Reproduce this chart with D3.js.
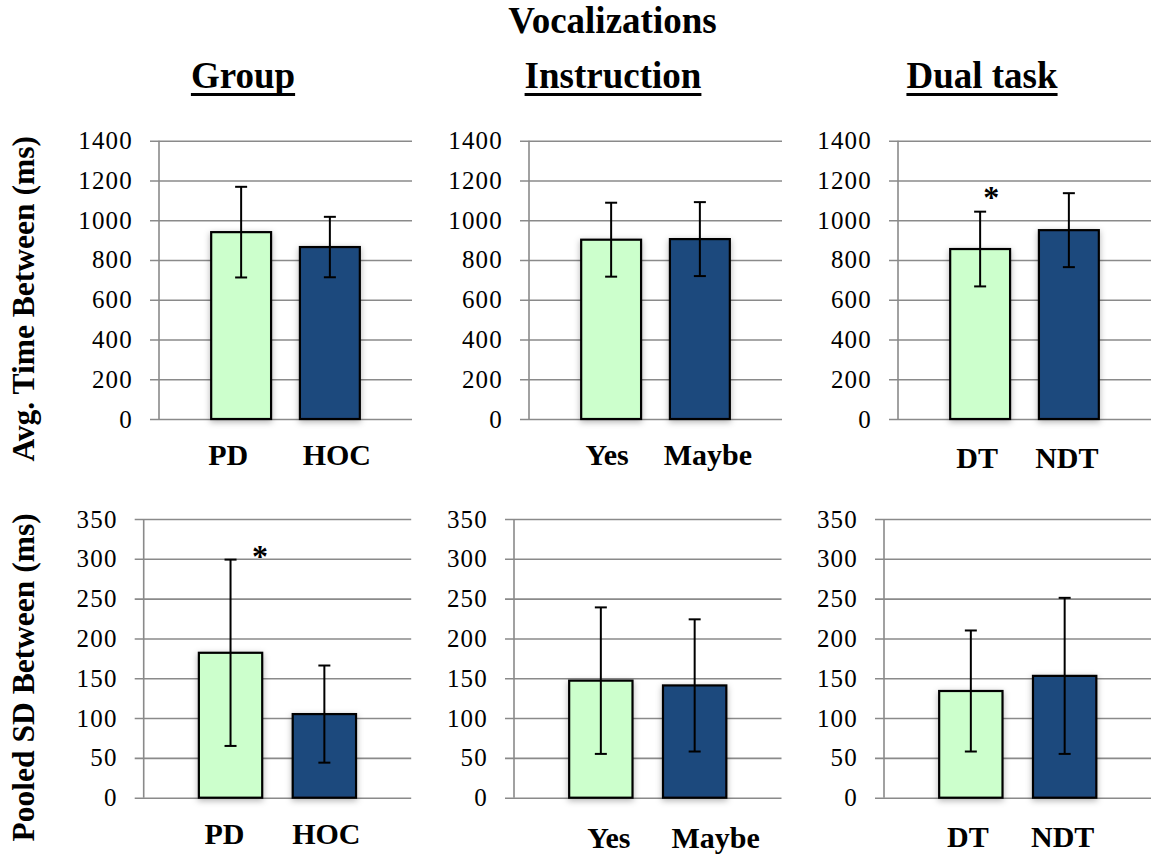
<!DOCTYPE html>
<html>
<head>
<meta charset="utf-8">
<script src="https://cdn.jsdelivr.net/npm/d3@7"></script>
<style>
  body { margin: 0; background: #fff; }
  text { font-family: "Liberation Serif", "Times New Roman", serif; }
  .tick text { font-family: "Liberation Serif", serif !important; }
</style>
</head>
<body>
<svg id="chart" width="1151" height="855"></svg>
<script>
// ---- data ----
var mainTitle = "Vocalizations";
var panelTitles = ["Group", "Instruction", "Dual task"];
var categories = [["PD", "HOC"], ["Yes", "Maybe"], ["DT", "NDT"]];

// avg. time between (ms), mean and error bar half-length
var avgMeans  = [[940, 865], [902, 905], [855, 950]];
var avgErrors = [[228, 152], [186, 186], [188, 186]];
var avgTicks  = [0, 200, 400, 600, 800, 1000, 1200, 1400];

// pooled SD between (ms)
var sdMeans  = [[182, 105], [147, 141], [134, 153]];
var sdErrors = [[117, 61], [92, 83], [76, 98]];
var sdTicks  = [0, 50, 100, 150, 200, 250, 300, 350];

// significant bars: [panel, bar]
var avgStars = [[2, 0]];
var sdStars  = [[0, 0]];

var barColors = ["#ccffcc", "#1f497d"];

// ---- layout ----
var rows = [
  { means: avgMeans, errors: avgErrors, ticks: avgTicks, stars: avgStars,
    top: 140.7, bottom: 419, axisX: [159, 529, 898], w: 253,
    yTitle: "Avg. Time Between (ms)",
    labelDy: [46, 46, 49], labelDx: [[-13, 7], [-4, 8], [-3, -2]],
    starDx: 11, starDy: 19 },
  { means: sdMeans, errors: sdErrors, ticks: sdTicks, stars: sdStars,
    top: 519, bottom: 797.7, axisX: [143.7, 514, 884], w: 267.5,
    yTitle: "Pooled SD Between (ms)",
    labelDy: [46.5, 50.5, 49], labelDx: [[-6, 2], [8, 21], [-3, -2]],
    starDx: 29.5, starDy: 8 }
];

var svg = d3.select("#chart");

// soft shadow like the excel bars
var filt = svg.append("defs").append("filter")
  .attr("id", "shadow").attr("x", "-20%").attr("y", "-20%")
  .attr("width", "140%").attr("height", "140%");
filt.append("feDropShadow")
  .attr("dx", 0).attr("dy", 2).attr("stdDeviation", 3)
  .attr("flood-color", "#000").attr("flood-opacity", 0.3);

// main title
svg.append("text")
  .attr("x", 612.5).attr("y", 33)
  .attr("text-anchor", "middle")
  .style("font-size", "37px").style("font-weight", "bold")
  .text(mainTitle);

// panel titles with underline
panelTitles.forEach(function(t, i) {
  var cx = rows[0].axisX[i] + 84;
  var txt = svg.append("text")
    .attr("x", cx).attr("y", 88)
    .attr("text-anchor", "middle")
    .style("font-size", "37px").style("font-weight", "bold")
    .text(t);
  var len = txt.node().getComputedTextLength();
  svg.append("line")
    .attr("x1", cx - len / 2).attr("x2", cx + len / 2)
    .attr("y1", 94.5).attr("y2", 94.5)
    .attr("stroke", "#000").attr("stroke-width", 3);
});

rows.forEach(function(row) {
  var y = d3.scaleLinear()
    .domain([0, d3.max(row.ticks)])
    .range([row.bottom, row.top]);

  // y axis title
  var midY = (row.top + row.bottom) / 2 + 19;
  svg.append("text")
    .attr("transform", "translate(34," + midY + ") rotate(-90)")
    .attr("text-anchor", "middle")
    .style("font-size", "31.5px").style("font-weight", "bold")
    .text(row.yTitle);

  categories.forEach(function(cats, p) {
    var ax = row.axisX[p];
    var x = d3.scaleBand()
      .domain(cats)
      .range([ax, ax + row.w])
      .paddingInner(0.325)
      .paddingOuter(0.588);

    // gridlines + tick labels
    var g = svg.append("g")
      .attr("transform", "translate(" + (ax - 9) + ",0)")
      .call(d3.axisLeft(y)
        .tickValues(row.ticks)
        .tickFormat(d3.format("d"))
        .tickSize(-(row.w + 9))
        .tickSizeOuter(0));
    g.attr("font-family", null).attr("font-size", null);
    g.select(".domain").remove();
    g.selectAll(".tick line").attr("stroke", "#8a8a8a").attr("stroke-width", 1.6);
    g.selectAll(".tick text")
      .attr("x", -17)
      .attr("fill", "#000")
      .style("font-size", "25px")
      .style("letter-spacing", "1.2px");

    // vertical axis line
    svg.append("line")
      .attr("x1", ax).attr("x2", ax)
      .attr("y1", row.top).attr("y2", row.bottom)
      .attr("stroke", "#8a8a8a").attr("stroke-width", 1.6);

    var vals = cats.map(function(c, i) {
      return { cat: c, mean: row.means[p][i], err: row.errors[p][i], i: i };
    });

    // bars
    svg.append("g").selectAll("rect")
      .data(vals)
      .join("rect")
      .attr("x", function(d) { return x(d.cat); })
      .attr("y", function(d) { return y(d.mean); })
      .attr("width", x.bandwidth())
      .attr("height", function(d) { return y(0) - y(d.mean); })
      .attr("fill", function(d) { return barColors[d.i]; })
      .attr("stroke", "#000")
      .attr("stroke-width", 2.2)
      .attr("filter", "url(#shadow)");

    // error bars
    var eb = svg.append("g").selectAll("g")
      .data(vals)
      .join("g")
      .attr("stroke", "#000").attr("stroke-width", 2);
    eb.append("line")
      .attr("x1", function(d) { return x(d.cat) + x.bandwidth() / 2; })
      .attr("x2", function(d) { return x(d.cat) + x.bandwidth() / 2; })
      .attr("y1", function(d) { return y(d.mean + d.err); })
      .attr("y2", function(d) { return y(d.mean - d.err); });
    [1, -1].forEach(function(s) {
      eb.append("line")
        .attr("x1", function(d) { return x(d.cat) + x.bandwidth() / 2 - 6; })
        .attr("x2", function(d) { return x(d.cat) + x.bandwidth() / 2 + 6; })
        .attr("y1", function(d) { return y(d.mean + s * d.err); })
        .attr("y2", function(d) { return y(d.mean + s * d.err); });
    });

    // category labels
    svg.append("g").selectAll("text")
      .data(vals)
      .join("text")
      .attr("x", function(d) { return x(d.cat) + x.bandwidth() / 2 + row.labelDx[p][d.i]; })
      .attr("y", row.bottom + row.labelDy[p])
      .attr("text-anchor", "middle")
      .style("font-size", "30px").style("font-weight", "bold")
      .text(function(d) { return d.cat; });

    // significance stars
    row.stars.filter(function(s) { return s[0] === p; }).forEach(function(s) {
      var d = vals[s[1]];
      svg.append("text")
        .attr("x", x(d.cat) + x.bandwidth() / 2 + row.starDx)
        .attr("y", y(d.mean + d.err) - row.starDy + 15)
        .attr("text-anchor", "middle")
        .style("font-size", "32px").style("font-weight", "bold")
        .text("*");
    });
  });
});
</script>
</body>
</html>
